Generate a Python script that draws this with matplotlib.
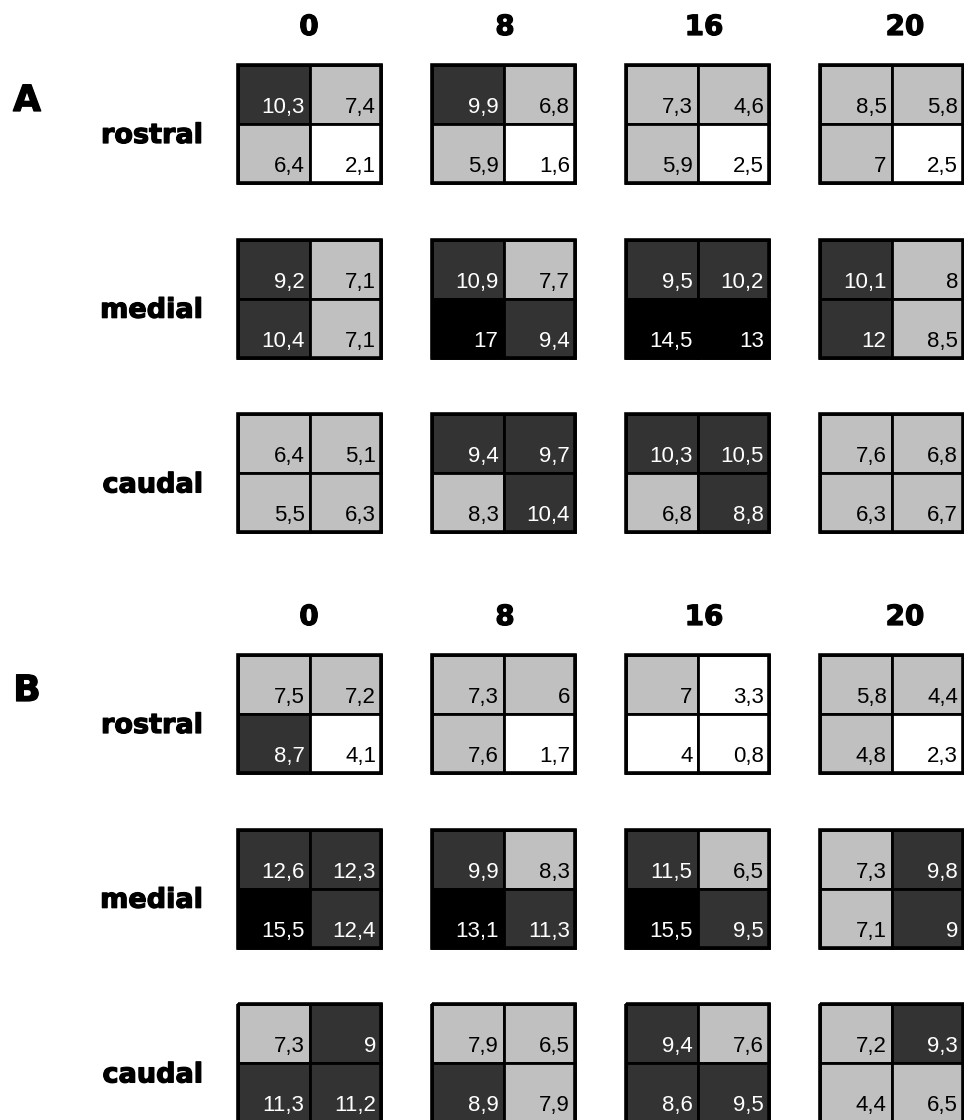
import numpy as np
import matplotlib
matplotlib.use("Agg")
import matplotlib.pyplot as plt
from matplotlib.patches import Rectangle
import matplotlib.patheffects as pe

# Time points (column headers) and regions (row labels)
timepoints = ["0", "8", "16", "20"]
regions = ["rostral", "medial", "caudal"]
panels = ["A", "B"]

# Panel A: each entry is a 2x2 grid [[top-left, top-right], [bottom-left, bottom-right]]
a_rostral = [[[10.3, 7.4], [6.4, 2.1]], [[9.9, 6.8], [5.9, 1.6]],
             [[7.3, 4.6], [5.9, 2.5]], [[8.5, 5.8], [7.0, 2.5]]]
a_medial = [[[9.2, 7.1], [10.4, 7.1]], [[10.9, 7.7], [17.0, 9.4]],
            [[9.5, 10.2], [14.5, 13.0]], [[10.1, 8.0], [12.0, 8.5]]]
a_caudal = [[[6.4, 5.1], [5.5, 6.3]], [[9.4, 9.7], [8.3, 10.4]],
            [[10.3, 10.5], [6.8, 8.8]], [[7.6, 6.8], [6.3, 6.7]]]

# Panel B
b_rostral = [[[7.5, 7.2], [8.7, 4.1]], [[7.3, 6.0], [7.6, 1.7]],
             [[7.0, 3.3], [4.0, 0.8]], [[5.8, 4.4], [4.8, 2.3]]]
b_medial = [[[12.6, 12.3], [15.5, 12.4]], [[9.9, 8.3], [13.1, 11.3]],
            [[11.5, 6.5], [15.5, 9.5]], [[7.3, 9.8], [7.1, 9.0]]]
b_caudal = [[[7.3, 9.0], [11.3, 11.2]], [[7.9, 6.5], [8.9, 7.9]],
            [[9.4, 7.6], [8.6, 9.5]], [[7.2, 9.3], [4.4, 6.5]]]

panel_data = [[a_rostral, a_medial, a_caudal], [b_rostral, b_medial, b_caudal]]

# Shading classes: white, light gray, dark gray, black
class_edges = [4.3, 8.55, 12.8]
fill_colors = ["#ffffff", "#c0c0c0", "#333333", "#000000"]
text_colors = ["#000000", "#000000", "#ffffff", "#ffffff"]

# Layout in pixel units
W, H = 964, 1120
block_x0, block_dx = 238, 194
block_y0, block_dy = 65, 174.7
panel_dy = 590
cell_w, cell_h = 71.5, 59
header_x = [309, 505, 704, 905]

# Extra-heavy lettering for labels: bold face thickened by a thin stroke
heavy = dict(family="DejaVu Sans", fontweight="bold",
             path_effects=[pe.withStroke(linewidth=0.9, foreground="black")])

fig = plt.figure(figsize=(W / 100, H / 100), dpi=100)
ax = fig.add_axes([0, 0, 1, 1])
ax.set_xlim(0, W)
ax.set_ylim(H, 0)
ax.axis("off")


def fmt(v):
    return f"{v:g}".replace(".", ",")


for p, pname in enumerate(panels):
    py = p * panel_dy
    ax.text(27, py + 101, pname, ha="center", va="center", fontsize=26, **heavy)
    for j, tp in enumerate(timepoints):
        ax.text(header_x[j], py + 27, tp, ha="center", va="center",
                fontsize=20, **heavy)
    for i, reg in enumerate(regions):
        top = py + block_y0 + i * block_dy
        ax.text(203, top + 71, reg, ha="right", va="center", fontsize=19.5,
                **heavy)
        for j in range(len(timepoints)):
            grid = np.array(panel_data[p][i][j])
            left = block_x0 + j * block_dx
            for r in range(2):
                for c in range(2):
                    v = grid[r, c]
                    k = int(np.digitize(v, class_edges))
                    x = left + c * cell_w
                    y = top + r * cell_h
                    ax.add_patch(Rectangle((x, y), cell_w, cell_h,
                                           facecolor=fill_colors[k],
                                           edgecolor="black", linewidth=2.0))
                    ax.text(x + cell_w - 5, y + 48, fmt(v), ha="right",
                            va="baseline", fontsize=16, color=text_colors[k],
                            family="Liberation Sans")
            ax.add_patch(Rectangle((left, top), 2 * cell_w, 2 * cell_h,
                                   facecolor="none", edgecolor="black",
                                   linewidth=2.6))

fig.savefig("out.png", dpi=100)
